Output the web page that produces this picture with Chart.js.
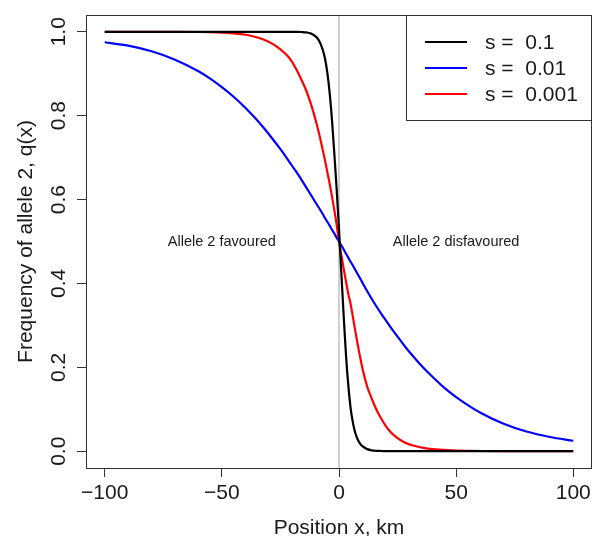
<!DOCTYPE html>
<html><head><meta charset="utf-8">
<script src="https://cdn.jsdelivr.net/npm/chart.js@4.4.1/dist/chart.umd.min.js"></script>
<style>html,body{margin:0;padding:0;background:#fff}canvas{display:block}</style>
</head><body>
<canvas id="c" width="592" height="536"></canvas>
<script>
// ---- data ----
const positions = [-100,-90,-80,-70,-60,-55,-50,-45,-40,-36,-32,-28,-25,-22,-20,-18,-16,-14,-12,-10,-9,-8,-7,-6,-5,-4,-3,-2,-1,0,1,2,3,4,5,6,7,8,9,10,12,14,16,18,20,22,25,28,32,36,40,45,50,55,60,70,80,90,100];
const seriesLabels = ['s =  0.1', 's =  0.01', 's =  0.001'];
const seriesColors = ['#000000', '#0000ff', '#ff0000'];
const freqS1 = [1,1,1,1,1,1,1,1,1,1,1,1,1,1,1,1,0.9995,0.9985,0.996,0.989,0.983,0.973,0.958,0.937,0.903,0.855,0.79,0.71,0.625,0.53,0.425,0.322,0.228,0.155,0.101,0.066,0.043,0.028,0.018,0.012,0.005,0.002,0.001,0.0005,0,0,0,0,0,0,0,0,0,0,0,0,0,0,0];
const freqS01 = [0.975,0.967,0.9535,0.9335,0.906,0.8885,0.868,0.845,0.819,0.7955,0.770,0.742,0.720,0.6965,0.680,0.664,0.647,0.629,0.611,0.593,0.584,0.575,0.566,0.556,0.547,0.538,0.528,0.519,0.509,0.500,0.491,0.481,0.471,0.461,0.451,0.442,0.432,0.422,0.412,0.402,0.382,0.363,0.345,0.328,0.312,0.296,0.273,0.251,0.224,0.199,0.177,0.151,0.129,0.110,0.093,0.066,0.047,0.034,0.025];
const freqS001 = [1,1,1,1,0.9995,0.999,0.998,0.996,0.993,0.988,0.981,0.970,0.958,0.943,0.928,0.908,0.885,0.860,0.828,0.790,0.768,0.745,0.720,0.694,0.666,0.638,0.607,0.575,0.540,0.500,0.467,0.435,0.404,0.374,0.350,0.318,0.285,0.254,0.225,0.198,0.155,0.125,0.099,0.078,0.060,0.046,0.031,0.021,0.013,0.008,0.005,0.003,0.0015,0.001,0.0005,0,0,0,0];
const xTicks = [-100,-50,0,50,100];
const yTicks = [0,0.2,0.4,0.6,0.8,1.0];
const notes = [{text:'Allele 2 favoured', x:-50, y:0.5}, {text:'Allele 2 disfavoured', x:50, y:0.5}];
const divideAt = 0;

const FONT = "'Liberation Sans', Arial, Helvetica, sans-serif";
const INK = '#1a1a1a';
const pts = ys => positions.map((x, i) => ({x: x, y: ys[i]}));
const seriesData = [freqS1, freqS01, freqS001];

const decorPlugin = {
  id: 'decor',
  beforeDatasetsDraw(chart) {
    const {ctx, chartArea: a, scales} = chart;
    const px = scales.x.getPixelForValue(divideAt);
    ctx.save();
    ctx.strokeStyle = '#d0d0d0';
    ctx.lineWidth = 2;
    ctx.beginPath(); ctx.moveTo(px, a.top); ctx.lineTo(px, a.bottom); ctx.stroke();
    ctx.fillStyle = INK;
    ctx.font = '14.5px ' + FONT;
    ctx.textAlign = 'center'; ctx.textBaseline = 'middle';
    notes.forEach(n => ctx.fillText(n.text, scales.x.getPixelForValue(n.x), scales.y.getPixelForValue(n.y)));
    ctx.restore();
  },
  afterDatasetsDraw(chart) {
    const {ctx, chartArea: a} = chart;
    ctx.save();
    ctx.strokeStyle = '#333';
    ctx.lineWidth = 1;
    ctx.strokeRect(a.left + 0.5, a.top + 0.5, a.right - a.left - 1, a.bottom - a.top);
    // legend
    const bx = 406.5, by = a.top + 0.5, bw = a.right - 0.5 - bx, bh = 105;
    ctx.fillStyle = '#fff';
    ctx.fillRect(bx, by, bw, bh);
    ctx.strokeRect(bx, by, bw, bh);
    ctx.font = '21px ' + FONT;
    ctx.textAlign = 'left'; ctx.textBaseline = 'middle';
    chart.data.datasets.forEach((d, i) => {
      const ry = a.top + 27 + i * 26;
      ctx.strokeStyle = d.borderColor; ctx.lineWidth = 2.2;
      ctx.beginPath(); ctx.moveTo(425, ry); ctx.lineTo(467, ry); ctx.stroke();
      ctx.fillStyle = INK;
      ctx.fillText(d.label, 485, ry + 1);
    });
    ctx.restore();
  }
};

new Chart(document.getElementById('c'), {
  type: 'line',
  data: {
    datasets: seriesData.map((ys, i) => ({
      label: seriesLabels[i], data: pts(ys), borderColor: seriesColors[i], borderWidth: 2.2,
      pointRadius: 0, fill: false, cubicInterpolationMode: 'monotone'
    }))
  },
  options: {
    responsive: false, animation: false, devicePixelRatio: 1,
    layout: {padding: {top: 15, right: 0, left: 0, bottom: 0}},
    plugins: {legend: {display: false}, tooltip: {enabled: false}},
    scales: {
      x: {
        type: 'linear', min: -108, max: 108,
        afterBuildTicks: s => { s.ticks = xTicks.map(v => ({value: v})); },
        afterFit: s => { s.height = 68; s.paddingRight = 0; s.paddingLeft = 0; },
        grid: {display: true, drawOnChartArea: false, drawTicks: true, tickLength: 9, color: '#333', lineWidth: 1},
        border: {display: false},
        ticks: {font: {family: FONT, size: 21}, color: INK, padding: 4, maxRotation: 0, autoSkip: false,
          callback: v => v < 0 ? '\u2212' + Math.abs(v) : String(v)},
        title: {display: true, text: 'Position x, km', font: {family: FONT, size: 21}, color: INK, padding: {top: 0, bottom: -5}}
      },
      y: {
        min: -0.04, max: 1.04,
        afterBuildTicks: s => { s.ticks = yTicks.map(v => ({value: v})); },
        afterFit: s => { s.width = 86; s.paddingTop = 0; s.paddingBottom = 0; },
        grid: {display: true, drawOnChartArea: false, drawTicks: true, tickLength: 9, color: '#333', lineWidth: 1},
        border: {display: false},
        ticks: {font: {family: FONT, size: 21}, color: INK, padding: 3, minRotation: 90, maxRotation: 90, crossAlign: 'center', autoSkip: false,
          callback: v => Number(v).toFixed(1)},
        title: {display: true, text: 'Frequency of allele 2, q(x)', font: {family: FONT, size: 21}, color: INK, padding: {top: 14, bottom: 0}}
      }
    }
  },
  plugins: [decorPlugin]
});
</script>
</body></html>
